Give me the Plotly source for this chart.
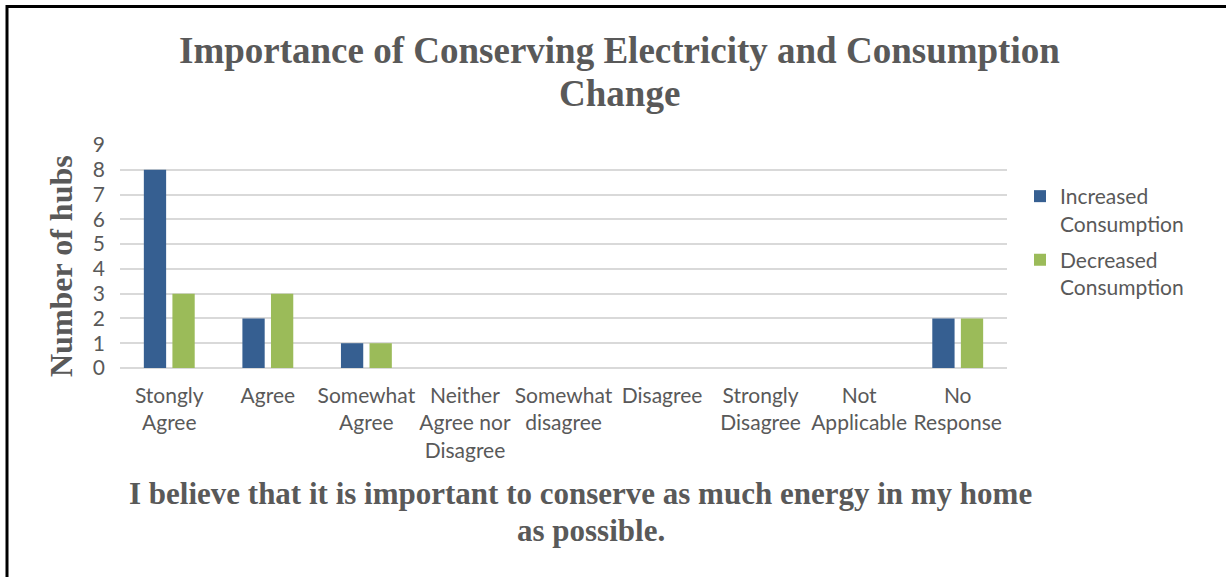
import plotly.graph_objects as go

categories = ["Stongly<br>Agree", "Agree", "Somewhat<br>Agree", "Neither<br>Agree nor<br>Disagree",
              "Somewhat<br>disagree", "Disagree", "Strongly<br>Disagree", "Not<br>Applicable", "No<br>Response"]
increased = [8, 2, 1, 0, 0, 0, 0, 0, 2]
decreased = [3, 3, 1, 0, 0, 0, 0, 0, 2]
y_ticks = list(range(0, 10))

W, H = 1226, 577
L, R, T, B = 120, 1007, 145, 368

def px(x):
    return (x - L) / (R - L)

def py(y):
    return (B - y) / (B - T)

gray = "#595959"
tickfont = dict(family="Lato", size=21, color=gray)
serif = "Liberation Serif"

fig = go.Figure()
fig.add_trace(go.Bar(x=categories, y=increased, name="Increased<br>Consumption", legendgroup="inc",
                     marker=dict(color="#365F91", line=dict(width=0))))
fig.add_trace(go.Bar(x=categories, y=decreased, name="Decreased<br>Consumption", legendgroup="dec",
                     marker=dict(color="#9BBB59", line=dict(width=0))))

def ann(text, x, y, size, angle=0):
    return dict(text="<b>" + text + "</b>", x=px(x), y=py(y), xref="paper", yref="paper",
                xanchor="center", yanchor="middle", showarrow=False, textangle=angle,
                font=dict(family=serif, size=size, color=gray))

fig.update_layout(
    width=W, height=H,
    margin=dict(l=L, r=W - R, t=T, b=H - B, autoexpand=False),
    paper_bgcolor="white", plot_bgcolor="white",
    barmode="group", bargap=0.42, bargroupgap=0.22,
    showlegend=True,
    legend=dict(x=px(1020), y=py(176), xanchor="left", yanchor="top", valign="top",
                font=dict(family="Lato", size=21, color=gray),
                tracegroupgap=6, itemwidth=30, bgcolor="rgba(0,0,0,0)"),
    xaxis=dict(showgrid=False, showline=False, ticks="", tickfont=tickfont,
               tickangle=0, ticklabelstandoff=13),
    yaxis=dict(range=[0, 9], tickvals=y_ticks, showgrid=True, gridcolor="#D9D9D9",
               gridwidth=2, zeroline=True, zerolinecolor="#D9D9D9", zerolinewidth=2,
               showline=False, ticks="", tickfont=tickfont, ticklabelstandoff=14),
    annotations=[
        ann("Importance of Conserving Electricity and Consumption", 619, 50, 37),
        ann("Change", 619, 93, 37),
        ann("Number of hubs", 61, 266, 32, -90),
        ann("I believe that it is important to conserve as much energy in my home", 580, 494, 31),
        ann("as possible.", 591, 530, 31),
    ],
    shapes=[
        dict(type="line", xref="paper", yref="paper", x0=px(7), x1=px(W + 5), y0=py(6.5), y1=py(6.5),
             line=dict(color="black", width=3)),
        dict(type="line", xref="paper", yref="paper", x0=px(7), x1=px(7), y0=py(5), y1=py(H + 5),
             line=dict(color="black", width=3)),
    ],
)

fig.write_html("out.html")
